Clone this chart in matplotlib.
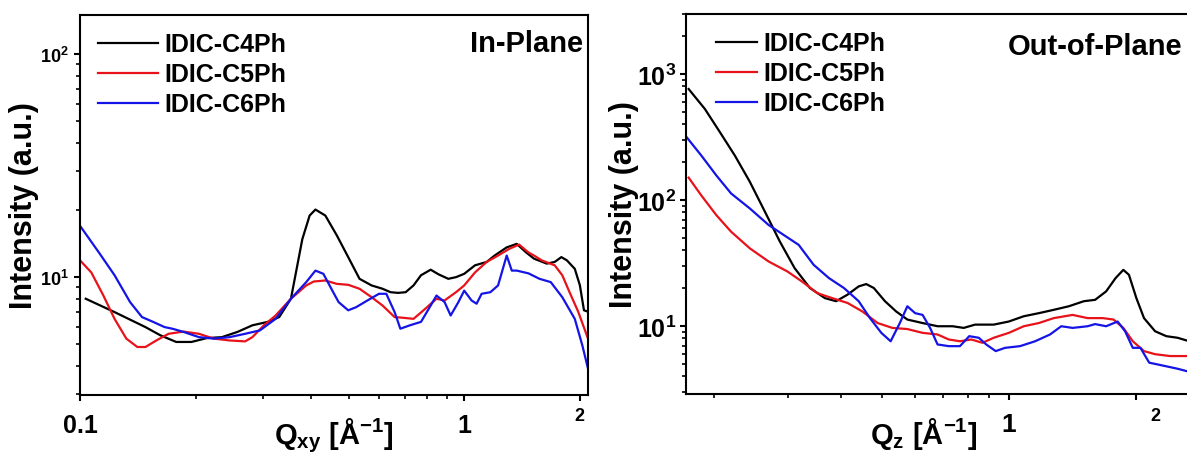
import numpy as np
import matplotlib
matplotlib.use("Agg")
import matplotlib.pyplot as plt

plt.rcParams['font.family'] = ['Liberation Sans', 'DejaVu Sans']
plt.rcParams['font.weight'] = 'bold'
plt.rcParams['mathtext.fontset'] = 'custom'
plt.rcParams['mathtext.rm'] = 'Liberation Sans:bold'
plt.rcParams['mathtext.bf'] = 'Liberation Sans:bold'
plt.rcParams['mathtext.it'] = 'Liberation Sans:bold'
plt.rcParams['mathtext.default'] = 'rm'

labels = ['IDIC-C4Ph', 'IDIC-C5Ph', 'IDIC-C6Ph']
colors = ['#000000', '#e8121a', '#1414e6']

# ---- in-plane (Qxy) ----
q_ip_c4 = [0.1035, 0.123, 0.148, 0.162, 0.178, 0.195, 0.214, 0.234, 0.257, 0.281, 0.308, 0.330,
           0.354, 0.379, 0.396, 0.410, 0.435, 0.466, 0.499, 0.534, 0.574, 0.613, 0.643, 0.673,
           0.704, 0.738, 0.772, 0.818, 0.857, 0.909, 0.952, 1.0, 1.067, 1.144, 1.20, 1.29,
           1.37, 1.45, 1.52, 1.64, 1.72, 1.79, 1.85, 1.94, 2.00, 2.05, 2.1]
i_ip_c4 = [8.0, 6.97, 5.97, 5.48, 5.12, 5.12, 5.33, 5.38, 5.68, 6.08, 6.3, 6.62,
           8.0, 14.8, 18.9, 20.1, 18.9, 15.4, 12.3, 9.83, 9.18, 8.87, 8.56, 8.5,
           8.56, 9.18, 10.2, 10.8, 10.3, 9.83, 10.0, 10.35, 11.3, 11.7, 12.5, 13.6,
           14.1, 12.9, 12.1, 11.5, 11.7, 12.3, 11.9, 10.9, 9.2, 7.1, 7.0]

q_ip_c5 = [0.1, 0.107, 0.115, 0.123, 0.132, 0.141, 0.148, 0.158, 0.170, 0.186, 0.204, 0.223,
           0.245, 0.269, 0.281, 0.301, 0.323, 0.354, 0.388, 0.406, 0.435, 0.466, 0.499, 0.534,
           0.574, 0.613, 0.659, 0.689, 0.738, 0.791, 0.847, 0.889, 0.952, 1.0, 1.067, 1.144,
           1.225, 1.31, 1.39, 1.47, 1.52, 1.59, 1.72, 1.80, 1.88, 1.98, 2.1]
i_ip_c5 = [11.9, 10.5, 8.28, 6.5, 5.3, 4.86, 4.86, 5.2, 5.57, 5.7, 5.57, 5.3,
           5.2, 5.15, 5.38, 6.08, 6.73, 8.0, 9.18, 9.56, 9.66, 9.33, 9.24, 8.87,
           8.13, 7.46, 6.62, 6.58, 6.5, 7.2, 8.0, 7.86, 8.56, 9.18, 10.5, 11.7,
           12.5, 13.4, 14.0, 12.9, 12.5, 11.9, 11.3, 10.2, 8.56, 7.0, 5.3]

q_ip_c6 = [0.1, 0.112, 0.123, 0.135, 0.145, 0.155, 0.166, 0.174, 0.186, 0.204, 0.223, 0.245,
           0.269, 0.294, 0.323, 0.354, 0.388, 0.410, 0.430, 0.451, 0.471, 0.499, 0.523, 0.560,
           0.600, 0.627, 0.659, 0.682, 0.722, 0.772, 0.818, 0.847, 0.889, 0.922, 0.966, 1.0,
           1.045, 1.077, 1.11, 1.17, 1.225, 1.29, 1.33, 1.37, 1.47, 1.57, 1.68, 1.80,
           1.94, 2.03, 2.1]
i_ip_c6 = [17.0, 12.9, 10.2, 7.73, 6.62, 6.3, 5.97, 5.87, 5.68, 5.38, 5.3, 5.38,
           5.57, 5.77, 6.5, 8.0, 9.5, 10.7, 10.35, 8.87, 7.73, 7.1, 7.33, 7.86,
           8.42, 8.42, 6.97, 5.87, 6.08, 6.3, 7.46, 8.27, 7.73, 6.73, 7.73, 8.7,
           7.86, 7.6, 8.42, 8.56, 9.18, 12.5, 10.7, 10.7, 10.4, 9.83, 9.5, 8.13,
           6.5, 4.94, 3.89]

# ---- out-of-plane (Qz) ----
q_oop_c4 = [0.1745, 0.1906, 0.207, 0.2245, 0.2436, 0.2645, 0.287, 0.311, 0.338, 0.367, 0.390,
            0.415, 0.441, 0.4596, 0.479, 0.509, 0.541, 0.575, 0.625, 0.678, 0.736, 0.782,
            0.832, 0.921, 1.0, 1.085, 1.178, 1.278, 1.387, 1.506, 1.601, 1.70, 1.79, 1.867,
            1.925, 2.005, 2.09, 2.22, 2.36, 2.51, 2.64, 2.76]
i_oop_c4 = [762, 530, 346, 226, 140, 81, 46.9, 28.9, 20.1, 16.7, 15.8,
            17.8, 20.7, 21.6, 20.1, 15.8, 13.1, 11.3, 10.6, 10.0, 10.0, 9.7,
            10.3, 10.3, 10.9, 12.0, 12.7, 13.5, 14.4, 15.8, 16.2, 18.9, 24.1, 28.0,
            25.6, 16.7, 11.6, 9.13, 8.34, 8.1, 7.7, 7.6]

q_oop_c5 = [0.1745, 0.187, 0.203, 0.220, 0.2436, 0.270, 0.299, 0.324, 0.352, 0.382, 0.415,
            0.450, 0.489, 0.530, 0.575, 0.625, 0.678, 0.721, 0.766, 0.815, 0.866, 0.921,
            1.0, 1.085, 1.178, 1.278, 1.416, 1.537, 1.67, 1.77, 1.867, 1.966, 2.09, 2.22,
            2.41, 2.64, 2.76]
i_oop_c5 = [151, 109, 76, 56.2, 41.5, 32.6, 27.2, 22.6, 18.3, 16.7, 15.3,
            13.1, 10.6, 9.7, 9.5, 8.86, 8.6, 7.85, 7.6, 7.85, 7.39, 8.1,
            8.86, 10.0, 10.6, 11.6, 12.3, 11.6, 11.6, 11.3, 9.7, 7.6, 6.35, 6.0,
            5.8, 5.8, 5.7]

q_oop_c6 = [0.1726, 0.187, 0.203, 0.220, 0.2436, 0.270, 0.293, 0.318, 0.345, 0.375, 0.407,
            0.441, 0.469, 0.499, 0.525, 0.552, 0.575, 0.600, 0.625, 0.651, 0.678, 0.721,
            0.766, 0.806, 0.849, 0.884, 0.931, 0.98, 1.063, 1.154, 1.252, 1.331, 1.416,
            1.537, 1.601, 1.70, 1.81, 1.885, 1.966, 2.05, 2.15, 2.30, 2.51, 2.64, 2.76]
i_oop_c6 = [316, 226, 157, 113, 86, 63.5, 53, 44.2, 30.7, 24.1, 20.1,
            15.8, 11.6, 8.86, 7.6, 10.6, 14.4, 12.7, 12.3, 9.7, 7.17, 6.95,
            6.95, 8.34, 8.1, 7.17, 6.35, 6.74, 6.95, 7.6, 8.6, 10.0, 9.7,
            10.0, 10.4, 10.0, 10.9, 9.13, 6.74, 6.74, 5.14, 4.9, 4.6, 4.4, 4.3]

in_plane = [(q_ip_c4, i_ip_c4), (q_ip_c5, i_ip_c5), (q_ip_c6, i_ip_c6)]
out_plane = [(q_oop_c4, i_oop_c4), (q_oop_c5, i_oop_c5), (q_oop_c6, i_oop_c6)]

W, H = 1187, 456
fig = plt.figure(figsize=(W / 100, H / 100), dpi=100)


def px_axes(x0, y0, x1, y1):
    return fig.add_axes([x0 / W, 1 - y1 / H, (x1 - x0) / W, (y1 - y0) / H])


ax1 = px_axes(80, 16, 588, 396)
ax2 = px_axes(686, 15, 1195, 395)

for ax, data in [(ax1, in_plane), (ax2, out_plane)]:
    for (q, inten), c, lab in zip(data, colors, labels):
        ax.plot(q, inten, color=c, lw=1.6, label=lab)
    ax.set_xscale('log')
    ax.set_yscale('log')
    for s in ax.spines.values():
        s.set_linewidth(1.5)
    ax.tick_params(which='major', direction='out', length=4, width=1.5)
    ax.tick_params(which='minor', direction='out', length=3, width=1.2)
    ax.yaxis.set_minor_formatter(matplotlib.ticker.NullFormatter())
    ax.xaxis.set_minor_formatter(matplotlib.ticker.NullFormatter())
    ax.set_ylabel('Intensity (a.u.)', fontsize=22, fontweight='bold')

ax2.spines['right'].set_visible(False)

# left panel
ax1.set_xlim(0.1, 2.1)
ax1.set_ylim(2.96, 150)
ax1.set_xticks([0.1, 1, 2])
ax1.set_xticklabels(['0.1', '1', ''])
ax1.set_yticks([10, 100])
ax1.set_yticklabels([r'$10^{1}$', r'$10^{2}$'])
ax1.tick_params(axis='x', which='major', labelsize=18, pad=9)
ax1.tick_params(axis='y', which='major', labelsize=13, pad=4)
ax1.annotate('2', xy=(2, 0), xycoords=('data', 'axes fraction'), xytext=(0, -12),
             textcoords='offset pixels', ha='center', va='top', fontsize=13, fontweight='bold')
ax1.set_xlabel(r'Q$_{xy}$ [Å$^{-1}$]', fontsize=21, fontweight='bold')
ax1.xaxis.set_label_coords(0.5, -0.053)
ax1.yaxis.set_label_coords(-0.081, 0.5)
ax1.legend(loc='upper left', bbox_to_anchor=(0.001, 1.0), frameon=False, fontsize=18,
           handlelength=2.4, handletextpad=0.25, labelspacing=0.24, borderaxespad=0.3)
ax1.text(0.99, 0.925, 'In-Plane', transform=ax1.transAxes, ha='right', va='center',
         fontsize=21, fontweight='bold')

# right panel
ax2.set_xlim(0.172, 2.76)
ax2.set_ylim(2.9, 3000)
ax2.set_xticks([1, 2])
ax2.set_xticklabels(['1', ''])
ax2.set_yticks([10, 100, 1000])
ax2.set_yticklabels([r'$10^{1}$', r'$10^{2}$', r'$10^{3}$'])
ax2.tick_params(axis='x', which='major', labelsize=19, pad=9)
ax2.tick_params(axis='y', which='major', labelsize=18, pad=3)
ax2.annotate('2', xy=(2, 0), xycoords=('data', 'axes fraction'), xytext=(19, -13),
             textcoords='offset pixels', ha='center', va='top', fontsize=13, fontweight='bold')
ax2.set_xlabel(r'Q$_{z}$ [Å$^{-1}$]', fontsize=21, fontweight='bold')
ax2.xaxis.set_label_coords((924 - 686) / 509, -0.055)
ax2.yaxis.set_label_coords(-0.092, 0.5)
ax2.legend(loc='upper left', bbox_to_anchor=(0.025, 1.0), frameon=False, fontsize=18,
           handlelength=1.62, handletextpad=0.28, labelspacing=0.24, borderaxespad=0.3)
ax2.text((1182 - 686) / 509, 0.915, 'Out-of-Plane', transform=ax2.transAxes, ha='right',
         va='center', fontsize=21, fontweight='bold')

fig.savefig('out.png', dpi=100)
